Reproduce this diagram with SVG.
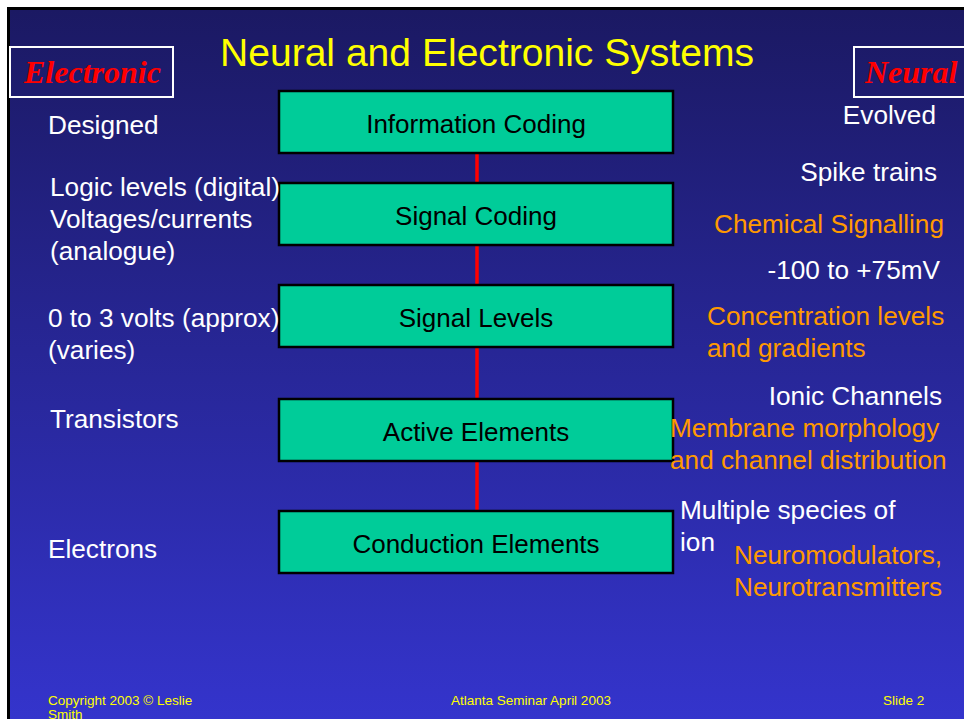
<svg xmlns="http://www.w3.org/2000/svg" width="964" height="719" viewBox="0 0 964 719">
<defs>
<linearGradient id="bg" x1="0" y1="0" x2="0" y2="1">
<stop offset="0" stop-color="#1b1963"/>
<stop offset="1" stop-color="#3434cc"/>
</linearGradient>
<style>
.t{font-family:"Liberation Sans",Arial,sans-serif;font-size:26.2px;fill:#fff}
.o{fill:#ff9900}
.bx{fill:#00cc99;stroke:#000;stroke-width:2.5}
.bt{font-family:"Liberation Sans",Arial,sans-serif;font-size:26px;fill:#000;text-anchor:middle}
.lab{fill:none;stroke:#fff;stroke-width:2}
.lt{font-family:"Liberation Serif","Times New Roman",serif;font-weight:bold;font-style:italic;font-size:32px;fill:#ff0000}
.f{font-family:"Liberation Sans",Arial,sans-serif;font-size:13.5px;fill:#ffff00}
</style>
</defs>
<rect width="964" height="719" fill="#fff"/>
<rect x="7" y="7" width="957" height="712" fill="#000"/>
<rect x="10" y="10" width="954" height="709" fill="url(#bg)"/>
<text x="220" y="66" font-family="'Liberation Sans',Arial,sans-serif" font-size="38" fill="#ffff00" textLength="534" lengthAdjust="spacingAndGlyphs">Neural and Electronic Systems</text>
<g id="label-electronic"><rect class="lab" x="10" y="47" width="163" height="50"/><text class="lt" x="24" y="83">Electronic</text></g>
<g id="label-neural"><rect class="lab" x="854" y="47" width="120" height="50"/><text class="lt" x="865" y="83">Neural</text></g>
<g id="connectors"><line x1="477" y1="153" x2="477" y2="511" stroke="#ff0000" stroke-width="3.5"/></g>
<g id="n1"><rect class="bx" x="279" y="91" width="394" height="62"/><text class="bt" x="476" y="133">Information Coding</text></g>
<g id="n2"><rect class="bx" x="279" y="183" width="394" height="62"/><text class="bt" x="476" y="225">Signal Coding</text></g>
<g id="n3"><rect class="bx" x="279" y="285" width="394" height="62"/><text class="bt" x="476" y="327">Signal Levels</text></g>
<g id="n4"><rect class="bx" x="279" y="399" width="394" height="62"/><text class="bt" x="476" y="441">Active Elements</text></g>
<g id="n5"><rect class="bx" x="279" y="511" width="394" height="62"/><text class="bt" x="476" y="553">Conduction Elements</text></g>
<g id="left">
<text class="t" x="48" y="134">Designed</text>
<text class="t" x="50" y="196">Logic levels (digital)</text>
<text class="t" x="50" y="228">Voltages/currents</text>
<text class="t" x="50" y="260">(analogue)</text>
<text class="t" x="48" y="327">0 to 3 volts (approx)</text>
<text class="t" x="48" y="359">(varies)</text>
<text class="t" x="50" y="428">Transistors</text>
<text class="t" x="48" y="558">Electrons</text>
</g>
<g id="right">
<text class="t" x="936" y="124" text-anchor="end">Evolved</text>
<text class="t" x="937" y="181" text-anchor="end">Spike trains</text>
<text class="t o" x="944" y="233" text-anchor="end">Chemical Signalling</text>
<text class="t" x="940" y="279" text-anchor="end">-100 to +75mV</text>
<text class="t o" x="707" y="325">Concentration levels</text>
<text class="t o" x="707" y="357">and gradients</text>
<text class="t" x="942" y="405" text-anchor="end">Ionic Channels</text>
<text class="t o" x="670" y="437">Membrane morphology</text>
<text class="t o" x="670" y="469">and channel distribution</text>
<text class="t" x="680" y="519">Multiple species of</text>
<text class="t" x="680" y="551">ion</text>
<text class="t o" x="734" y="564">Neuromodulators,</text>
<text class="t o" x="734" y="596">Neurotransmitters</text>
</g>
<g id="footer">
<text class="f" x="48" y="705">Copyright 2003 © Leslie</text>
<text class="f" x="48" y="719">Smith</text>
<text class="f" x="531" y="705" text-anchor="middle">Atlanta Seminar April 2003</text>
<text class="f" x="883" y="705">Slide 2</text>
</g>
</svg>
